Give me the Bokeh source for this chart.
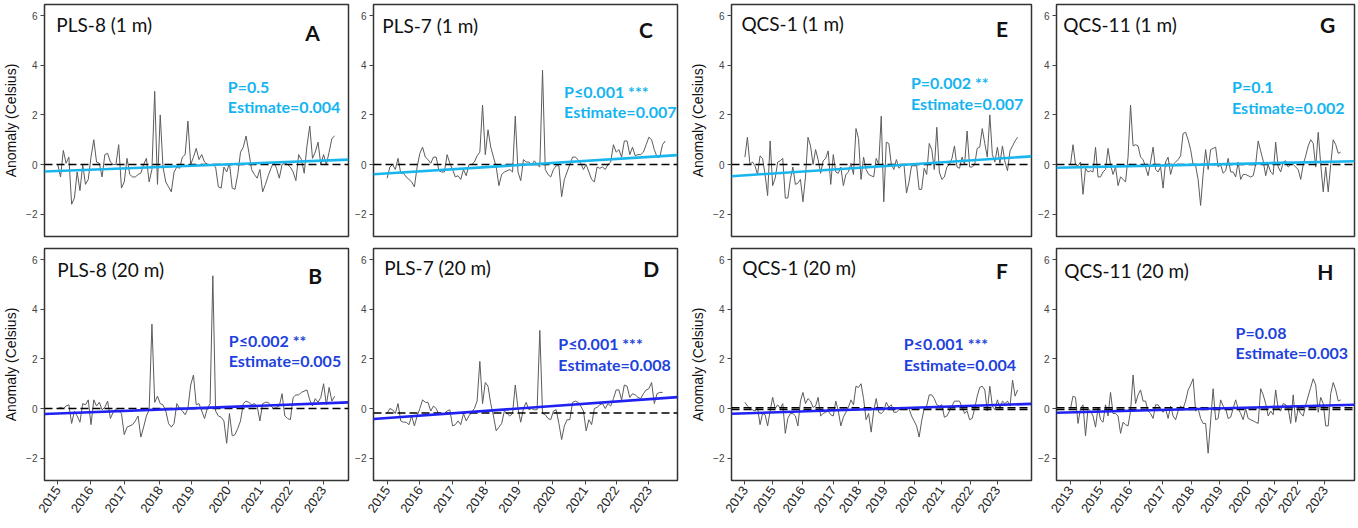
import math
from bokeh.plotting import figure
from bokeh.layouts import row, column
from bokeh.models import FixedTicker, Range1d
from bokeh.core.properties import value
from bokeh.embed import file_html
from bokeh.resources import INLINE

# ---------------- data (monthly anomalies) ----------------
pls8_1m = [0.0, -0.5, 0.57, 0.05, 0.3, -1.6, -1.35, -0.3, -1.05, 0.0,
           -0.8, -0.6, 0.3, 1.0, 0.1, 0.05, -0.5, 0.4, 0.45, 0.1,
           0.0, 0.0, 0.8, -0.95, -0.7, 0.25, -0.4, -0.5, -0.5, -0.4,
           -0.35, 0.0, 0.25, -0.7, -0.2, 2.95, -0.8, 2.0, -0.1, -0.7,
           -0.9, -1.1, -0.3, -0.1, -0.15, 0.3, 0.4, 1.75, 0.0, 0.3,
           0.65, 0.2, 0.4, 0.1, 0.0, 0.0, 0.0, -0.1, -0.9, -0.95,
           -0.1, -0.3, 0.05, -0.95, -1.0, -0.4, 0.5, 0.7, 1.15, 0.5,
           -0.2, -0.4, -0.55, -0.2, -1.1, -0.8, -0.45, -0.15, 0.1, -0.15,
           -0.55, 0.0, 0.05, 0.0, -0.1, -0.3, -0.65, 0.4, 0.2, -0.35,
           0.75, 1.55, 0.25, 0.5, 0.9, 0.0, 0.4, 0.0, 0.5, 1.05, 1.15]

pls8_20m = [0.0, 0.05, 0.0, 0.1, 0.15, -0.6, -0.1, -0.3, -0.55, 0.2,
            0.15, 0.35, -0.65, 0.35, 0.1, 0.25, -0.05, 0.05, 0.3, -0.4,
            -0.15, 0.0, -0.1, -0.2, -1.05, -0.75, -0.7, -0.65, -0.5, -0.3,
            -1.15, -0.75, -0.3, -0.05, 3.4, 0.25, 0.5, 0.2, 0.15, -0.1,
            -0.6, -0.75, -0.6, 0.2, 0.0, -0.1, -0.25, 0.0, 0.95, 1.35,
            0.15, 0.2, -0.1, -0.4, 0.0, 0.2, 5.35, -0.1, -0.3, -0.35,
            -0.5, -1.4, -0.2, -1.1, -1.05, -0.8, -0.5, 0.2, 0.3, 0.25,
            0.15, 0.2, 0.1, -0.5, 0.2, 0.25, 0.25, 0.1, 0.0, 0.05,
            0.1, 0.6, -0.3, -0.4, -0.45, 0.45, 0.55, 0.55, 0.65, 0.7,
            0.75, 0.35, 0.1, 0.4, 0.25, 0.45, 1.0, 0.15, 0.85, 0.3, 0.5]

pls7_1m = [-0.55, -0.1, 0.0, -0.2, 0.25, -0.35, -0.35, -0.5, -0.6, -0.7,
           -0.9, -0.1, 0.45, 0.7, 0.3, 0.2, 0.05, 0.3, 0.3, -0.25,
           -0.3, -0.3, 0.4, 0.05, -0.2, -0.5, -0.45, -0.6, -0.2, -0.45,
           0.0, 0.0, 0.1, 0.35, 0.5, 2.4, 0.4, 1.4, 0.7, 0.3,
           -0.1, -0.85, -0.4, -0.3, -0.25, -0.2, -0.3, 1.95, -0.3, -0.65,
           0.2, 0.1, 0.1, 0.0, 0.15, 0.0, -0.1, 3.8, -0.2, -0.4,
           -0.5, -0.2, -0.05, -0.05, -1.3, -0.6, -0.3, 0.0, 0.3, 0.3,
           0.2, 0.05, -0.2, 0.0, -0.3, -0.6, -0.7, -0.1, -0.15, -0.1,
           -0.2, 0.0, 0.1, 0.8, 0.5, 0.6, 0.3, 0.95, 0.95, 0.4,
           0.7, 0.35, 0.4, 0.4, 0.5, 0.8, 1.1, 1.0, 0.6, 0.3,
           0.3, 0.8, 0.95]

pls7_20m = [-0.2, 0.0, -0.05, -0.2, 0.2, -0.5, -0.55, -0.55, -0.65, -0.3,
            -0.7, -0.3, 0.0, 0.35, 0.25, 0.25, -0.1, 0.1, 0.0, -0.25,
            -0.2, -0.2, -0.1, -0.05, -0.7, -0.65, -0.5, -0.65, -0.2, -0.5,
            -0.3, -0.15, 0.0, 0.3, 1.9, 0.2, 1.05, 0.9, 0.2, -0.3,
            -0.9, -0.75, -0.6, -0.1, -0.2, -0.3, -0.2, 0.95, 0.0, -0.55,
            0.0, 0.25, -0.05, 0.0, -0.05, -0.05, 3.15, -0.2, -0.25, -0.4,
            -0.45, -0.1, -0.05, -0.6, -1.25, -0.7, -0.45, -0.45, 0.25, 0.3,
            0.25, 0.1, -0.1, -0.9, -0.45, -0.65, 0.0, 0.05, 0.15, 0.2,
            0.0, 0.2, 0.1, 0.4, 0.75, 0.75, 0.35, 0.95, 0.9, 0.45,
            0.6, 0.55, 0.45, 0.4, 0.6, 0.75, 0.8, 1.05, 0.2, 0.6,
            0.65, 0.65]

qcs1_1m = [0.3, 1.1, 0.0, 0.1, -0.05, -0.4, 0.35, 0.25, -0.4, -1.25,
           0.95, -0.85, -0.55, 0.1, 0.15, 0.25, -1.35, -1.35, -0.6, -0.1,
           -0.8, -0.75, -0.6, -1.5, -0.5, 1.1, 0.75, 0.0, 0.6, 0.2,
           -0.35, 0.15, 0.25, 0.55, -0.8, 0.4, -0.3, -0.35, -0.1, -0.85,
           -0.4, -0.3, 0.05, -0.4, 1.45, 1.05, -0.6, 0.3, -0.2, -0.4,
           -0.45, -0.5, 0.25, 0.0, 1.95, -1.5, 0.9, 0.85, 0.0, -0.2,
           0.2, -0.15, -0.05, 0.0, -1.15, -0.7, -0.05, -0.05, -0.05, -1.0,
           -1.0, -0.15, -0.4, 0.85, 0.6, -0.2, 1.5, -0.3, -0.6, -0.5,
           -0.1, 0.0, 0.25, 0.75, -0.1, -0.15, 0.3, 0.0, 1.35, -0.1,
           -0.1, 0.0, 0.65, 0.7, 1.45, 0.85, 0.3, 2.0, 0.4, 0.1,
           0.7, 0.05, 0.75, 0.1, -0.25, 0.55, 0.75, 0.95, 1.1]

qcs1_20m = [0.25, 0.1, 0.0, -0.05, -0.1, 0.05, -0.65, -0.2, -0.25, -0.7,
            -0.1, 0.45, 0.0, 0.15, 0.0, 0.2, -1.0, -0.4, -0.2, -0.2,
            -0.3, -0.7, 0.3, 0.65, 0.2, 0.4, 0.3, 0.05, 0.1, 0.45,
            -0.3, -0.2, -0.15, -0.1, -0.25, -0.3, 0.3, -0.1, -0.7, -0.35,
            -0.15, 0.05, 0.35, 0.15, 0.9, 0.85, 1.0, 0.4, -0.45, -0.2,
            -0.95, -0.1, 0.4, -0.15, -0.2, -0.1, 0.25, 0.05, 0.15, -0.15,
            -0.15, -0.05, 0.05, 0.0, 0.0, 0.0, -0.3, -0.5, -0.7, -1.15,
            -0.5, 0.0, 0.1, 0.55, 0.55, 0.4, 0.15, 0.1, 0.15, -0.35,
            -0.3, -0.1, 0.1, 0.3, 0.3, 0.3, 0.05, -0.2, -0.1, -0.45,
            -0.4, 0.0, 0.5, 0.85, 0.9, 0.75, -0.1, 0.9, 0.1, -0.05,
            0.35, 0.0, 0.3, 0.2, 0.3, 0.1, 1.15, 0.5, 0.75]

qcs11_1m = [0.0, 0.8, 0.0, -0.05, 0.1, -1.2, -0.15, -0.3, -0.25, -0.3,
            0.7, -0.5, -0.5, -0.3, -0.2, 0.65, 0.0, -0.4, -0.1, -0.85,
            -0.5, -0.6, -0.7, 0.3, 2.4, 0.75, 0.8, 0.75, 0.3, 0.2,
            -0.1, -0.45, 0.1, 0.7, -0.2, -0.3, -0.1, -0.95, 0.1, 0.3,
            -0.4, 0.0, 0.1, 0.2, 0.35, 1.25, 1.3, 1.0, 0.6, 0.0,
            -0.05, -0.6, -1.65, -0.4, 0.6, -0.2, 0.6, 0.65, 0.7, -0.1,
            0.0, -0.35, -0.25, 0.25, -0.3, -0.3, -0.5, 0.1, -0.6, -0.4,
            -0.4, -0.45, -0.5, -0.45, 0.0, 0.95, 0.55, 0.15, -0.45, 0.0,
            -0.3, -0.4, 0.9, -0.1, -0.3, 0.1, 0.15, -0.1, 0.0, 0.0,
            -0.1, -0.2, -0.6, 0.0, 0.35, 0.75, 1.0, 0.85, -0.1, 1.3,
            0.0, -1.1, -0.1, -1.1, 0.0, 1.0, 0.8, 0.45, 0.5]

qcs11_20m = [0.0, 0.5, 0.45, -0.6, 0.0, 0.15, -1.1, 0.0, -0.1, -0.3,
             -0.75, 0.05, -0.45, -0.55, 0.15, -0.3, 0.65, -0.2, -0.2, -0.3,
             -1.0, -0.55, -0.65, -0.7, -0.1, 1.35, 0.2, 0.55, 0.75, 0.3,
             0.3, -0.1, -0.2, -0.4, 0.15, 0.15, 0.0, -0.15, 0.0, -0.4,
             0.1, -0.3, -0.45, -0.1, 0.1, 0.0, 0.3, 0.75, 0.95, 1.2,
             -0.1, 0.0, -0.4, -0.6, -0.6, -1.8, -0.5, 0.8, -0.45, -0.4,
             0.35, 0.1, 0.0, -0.4, -0.35, 0.0, 0.35, 0.0, -0.2, -0.45,
             0.0, -0.4, -0.45, -0.5, -0.55, -0.6, 0.8, 0.55, 0.2, -0.3,
             -0.1, -0.25, 0.75, 0.0, -0.1, 0.2, 0.15, 0.0, -0.6, 0.55,
             -0.55, 0.0, -0.2, -0.3, 0.15, 0.5, 0.85, 1.2, 0.95, -0.15,
             0.45, 0.2, -0.7, -0.7, 0.6, 1.05, 0.75, 0.3, 0.35]

panel_titles = ["PLS-8 (1 m)", "PLS-8 (20 m)", "PLS-7 (1 m)", "PLS-7 (20 m)",
                "QCS-1 (1 m)", "QCS-1 (20 m)", "QCS-11 (1 m)", "QCS-11 (20 m)"]
panel_letters = ["A", "B", "C", "D", "E", "F", "G", "H"]
p_texts = ["P=0.5", "P\u22640.002 **", "P\u22640.001 ***", "P\u22640.001 ***",
           "P=0.002 **", "P\u22640.001 ***", "P=0.1", "P=0.08"]
est_texts = ["Estimate=0.004", "Estimate=0.005", "Estimate=0.007", "Estimate=0.008",
             "Estimate=0.007", "Estimate=0.004", "Estimate=0.002", "Estimate=0.003"]
trend_start = [-0.28, -0.22, -0.39, -0.42, -0.47, -0.21, -0.13, -0.17]
trend_end = [0.20, 0.25, 0.38, 0.46, 0.33, 0.19, 0.13, 0.15]
baselines = [[0.0], [0.0], [0.0], [-0.18], [0.0], [0.03, -0.04], [0.0], [0.03, -0.04]]

pls_ticks_B = [0, 11.8, 24, 36.9, 48.3, 61.5, 73.1, 83.8, 95.9]
pls_ticks_D = [0, 12, 24, 36, 48, 60.6, 72.6, 84, 96]
pls_tick_labels = ["2015", "2016", "2017", "2018", "2019", "2020", "2021", "2022", "2023"]
qcs_ticks_F = [0, 11.0, 22.7, 35.0, 45.0, 55.4, 67.2, 77.8, 89.2, 99.9]
qcs_ticks_H = [0, 12.0, 23.6, 36.9, 48.2, 59.6, 70.9, 81.4, 90.7, 101.7]
qcs_tick_labels = ["2013", "2015", "2016", "2017", "2018", "2019", "2020", "2021", "2022", "2023"]

series = [pls8_1m, pls8_20m, pls7_1m, pls7_20m, qcs1_1m, qcs1_20m, qcs11_1m, qcs11_20m]

# ---------------- layout / styling ----------------
CYAN = "#19b6ee"
CYAN_TXT = "#14b4f0"
BLUE = "#1f22f2"
BLUE_TXT = "#1e42db"
Y0, Y1 = -2.9, 6.45
FH = 232

cols = [dict(bl=36, fw=304, br=4, ylab=True, xr=(-4.8, 105.0)),
        dict(bl=18, fw=304, br=10, ylab=False, xr=(-5.0, 106.5)),
        dict(bl=40, fw=300, br=4, ylab=True, xr=(-5.3, 113.5)),
        dict(bl=18, fw=298, br=2, ylab=False, xr=(-5.6, 113.5))]

# text placement as fractions of the frame (x from left, y from top)
text_pos = [
    dict(t=(0.039, 0.085), l=(0.858, 0.119), a=(0.603, 0.352, 0.441)),
    dict(t=(0.042, 0.089), l=(0.868, 0.118), a=(0.606, 0.397, 0.481)),
    dict(t=(0.029, 0.092), l=(0.873, 0.109), a=(0.627, 0.374, 0.462)),
    dict(t=(0.035, 0.084), l=(0.887, 0.088), a=(0.608, 0.410, 0.500)),
    dict(t=(0.033, 0.081), l=(0.882, 0.102), a=(0.598, 0.336, 0.428)),
    dict(t=(0.036, 0.081), l=(0.882, 0.094), a=(0.574, 0.409, 0.502)),
    dict(t=(0.023, 0.085), l=(0.884, 0.085), a=(0.589, 0.355, 0.443)),
    dict(t=(0.026, 0.095), l=(0.875, 0.099), a=(0.601, 0.362, 0.448)),
]

x_ticks = {1: (pls_ticks_B, pls_tick_labels), 3: (pls_ticks_D, pls_tick_labels),
           5: (qcs_ticks_F, qcs_tick_labels), 7: (qcs_ticks_H, qcs_tick_labels)}


def make_panel(i):
    c = cols[i // 2]
    bottom = (i % 2 == 1)
    x0, x1 = c["xr"]
    p = figure(frame_width=c["fw"], frame_height=FH,
               x_range=Range1d(x0, x1), y_range=Range1d(Y0, Y1),
               output_backend="svg", toolbar_location=None,
               x_axis_location="below" if bottom else None,
               min_border_left=c["bl"], min_border_right=c["br"],
               min_border_top=6 if bottom else 4,
               min_border_bottom=0 if bottom else 6)
    p.background_fill_color = "white"
    p.border_fill_color = "white"
    p.outline_line_color = "#333333"
    p.outline_line_width = 1.5
    p.xgrid.visible = False
    p.ygrid.visible = False

    ya = p.yaxis[0]
    ya.ticker = FixedTicker(ticks=[-2, 0, 2, 4, 6])
    ya.axis_line_color = None
    ya.major_tick_line_color = "#444444"
    ya.major_tick_out = 4
    ya.major_tick_in = 0
    ya.minor_tick_line_color = None
    ya.major_label_text_font = "Liberation Sans"
    ya.major_label_text_font_size = "10px"
    ya.major_label_text_color = "#444444"
    ya.major_label_standoff = 3
    if c["ylab"]:
        ya.axis_label = "Anomaly (Celsius)"
        ya.axis_label_text_font = "Liberation Sans"
        ya.axis_label_text_font_size = "14px"
        ya.axis_label_text_font_style = "normal"
        ya.axis_label_text_color = "#111111"
        ya.axis_label_standoff = 4

    if bottom:
        pos, labs = x_ticks[i]
        xa = p.xaxis[0]
        xa.ticker = FixedTicker(ticks=pos)
        xa.major_label_overrides = {t: s for t, s in zip(pos, labs)}
        xa.axis_line_color = None
        xa.major_tick_line_color = "#444444"
        xa.major_tick_out = 4
        xa.major_tick_in = 0
        xa.minor_tick_line_color = None
        xa.major_label_orientation = 0.96
        xa.major_label_text_font = "Liberation Sans"
        xa.major_label_text_font_size = "13px"
        xa.major_label_text_color = "#222222"
        xa.major_label_standoff = 3

    ys = series[i]
    p.line(x=list(range(len(ys))), y=ys, line_color="#5c5c5c", line_width=1)
    for b in baselines[i]:
        p.line(x=[x0, x1], y=[b, b], line_color="black", line_width=1.5, line_dash="8 4")
    is_deep = bottom
    lc = BLUE if is_deep else CYAN
    tc = BLUE_TXT if is_deep else CYAN_TXT
    p.line(x=[x0, x1], y=[trend_start[i], trend_end[i]], line_color=lc, line_width=2.6)

    def fx(f):
        return x0 + f * (x1 - x0)

    def fy(f):
        return Y1 - f * (Y1 - Y0)

    tp = text_pos[i]
    p.text(x=[fx(tp["t"][0])], y=[fy(tp["t"][1])], text=[panel_titles[i]],
           text_font=value("Lato"), text_font_size="19px", text_color="#111111",
           text_baseline="middle", text_align="left")
    p.text(x=[fx(tp["l"][0])], y=[fy(tp["l"][1])], text=[panel_letters[i]],
           text_font=value("Lato"), text_font_size="21px", text_font_style="bold",
           text_color="#111111", text_baseline="middle", text_align="left")
    p.text(x=[fx(tp["a"][0]), fx(tp["a"][0])], y=[fy(tp["a"][1]), fy(tp["a"][2])],
           text=[p_texts[i], est_texts[i]],
           text_font=value("Lato"), text_font_size="16px", text_font_style="bold",
           text_color=tc, text_baseline="middle", text_align="left")
    return p


panels = [make_panel(i) for i in range(8)]
layout = row(*[column(panels[2 * k], panels[2 * k + 1], spacing=0) for k in range(4)], spacing=0)

open("out.html", "w").write(file_html(layout, INLINE))
